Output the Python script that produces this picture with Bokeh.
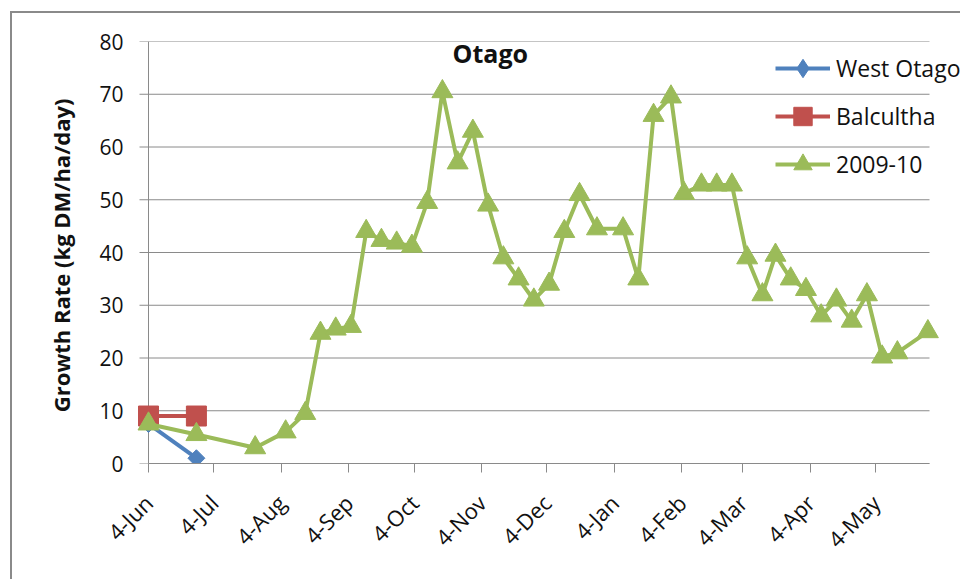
import math
import pandas as pd
from bokeh.plotting import figure
from bokeh.models import Legend, LegendItem, FixedTicker, Label, Range1d
from bokeh.embed import file_html
from bokeh.resources import INLINE

# ---------------- data ----------------
dates_2009_10 = [
    "2009-06-04", "2009-06-26", "2009-07-23", "2009-08-06", "2009-08-15",
    "2009-08-22", "2009-08-29", "2009-09-05", "2009-09-12", "2009-09-19",
    "2009-09-26", "2009-10-03", "2009-10-10", "2009-10-17", "2009-10-24",
    "2009-10-31", "2009-11-07", "2009-11-14", "2009-11-21", "2009-11-28",
    "2009-12-05", "2009-12-12", "2009-12-19", "2009-12-27", "2010-01-08",
    "2010-01-15", "2010-01-22", "2010-01-30", "2010-02-05", "2010-02-13",
    "2010-02-20", "2010-02-27", "2010-03-06", "2010-03-13", "2010-03-19",
    "2010-03-26", "2010-04-02", "2010-04-09", "2010-04-16", "2010-04-23",
    "2010-04-30", "2010-05-07", "2010-05-14", "2010-05-28",
]
values_2009_10 = [
    7.5, 5.5, 3, 6, 9.5,
    24.7, 25.5, 26, 44, 42.3,
    41.8, 41.2, 49.5, 70.5, 57,
    63, 49, 39, 35, 31,
    34, 44, 51, 44.5, 44.5,
    35, 66, 69.5, 51.2, 52.8,
    52.8, 52.8, 39, 32, 39.5,
    35, 33, 28, 31, 27,
    32, 20.2, 21, 25,
]
dates_west_otago = ["2009-06-04", "2009-06-26"]
values_west_otago = [7.5, 1]
dates_balcultha = ["2009-06-04", "2009-06-26"]
values_balcultha = [9, 9]

tick_dates = ["2009-06-04", "2009-07-04", "2009-08-04", "2009-09-04",
              "2009-10-04", "2009-11-04", "2009-12-04", "2010-01-04",
              "2010-02-04", "2010-03-04", "2010-04-04", "2010-05-04"]
tick_labels = ["4-Jun", "4-Jul", "4-Aug", "4-Sep", "4-Oct", "4-Nov",
               "4-Dec", "4-Jan", "4-Feb", "4-Mar", "4-Apr", "4-May"]
y_ticks = [0, 10, 20, 30, 40, 50, 60, 70, 80]

series_names = ["West Otago", "Balcultha", "2009-10"]
title_text = "Otago"
y_label = "Growth Rate  (kg DM/ha/day)"

# ---------------- styling ----------------
BLUE = "#4F81BD"
RED = "#C0504D"
GREEN = "#9BBB59"
GRID = "#8a8a8a"
FONT = "Open Sans"

x_g = pd.to_datetime(dates_2009_10)
x_w = pd.to_datetime(dates_west_otago)
x_b = pd.to_datetime(dates_balcultha)
tick_ms = [float(pd.Timestamp(d).value // 10**6) for d in tick_dates]

# layout (pixels)
W, H = 950, 568
PAD_L = 15            # frame starts a bit left of the value axis so edge markers are not clipped
BL, BT, BB = 136 - PAD_L, 28, 118
AXIS_W = 781          # drawn width of the date axis
TICK_OUT = 9
frame_w = W - BL      # frame runs to the right edge so the legend is not clipped

x_start = pd.Timestamp("2009-06-04")
x_axis_end = pd.Timestamp("2010-05-28 18:00")
px_per_day = AXIS_W / ((x_axis_end - x_start) / pd.Timedelta(days=1))
x_frame_start = x_start - pd.Timedelta(days=PAD_L / px_per_day)
x_frame_end = x_start + pd.Timedelta(days=(frame_w - PAD_L) / px_per_day)
x_tick_start = x_start - pd.Timedelta(days=TICK_OUT / px_per_day)

p = figure(
    width=W, height=H,
    x_axis_type="datetime",
    x_range=Range1d(x_frame_start, x_frame_end),
    y_range=Range1d(0, 80),
    output_backend="svg", toolbar_location=None,
    min_border_left=BL, min_border_right=0,
    min_border_top=BT, min_border_bottom=BB,
)
p.margin = (11, 0, 0, 10)
p.styles = {"border-top": "2px solid #8a8a8a", "border-left": "2px solid #8a8a8a"}
p.outline_line_color = None
p.background_fill_color = "white"
p.border_fill_color = "white"

# x axis
p.xaxis.ticker = FixedTicker(ticks=tick_ms)
p.xaxis.bounds = (x_start, x_axis_end)
p.xaxis.major_label_overrides = dict(zip(tick_ms, tick_labels))
p.xaxis.major_label_orientation = math.pi / 4
p.xaxis.minor_tick_line_color = None
p.xaxis.major_tick_in = 0
p.xaxis.major_tick_out = TICK_OUT
p.xaxis.major_label_standoff = 26
p.xaxis.axis_line_color = GRID
p.xaxis.major_tick_line_color = GRID
p.xaxis.major_label_text_font = FONT
p.xaxis.major_label_text_font_size = "22px"
p.xaxis.major_label_text_color = "#111111"

# y axis: labels from the axis; line and ticks drawn at the 4-Jun position
p.yaxis.ticker = FixedTicker(ticks=y_ticks)
p.yaxis.minor_tick_line_color = None
p.yaxis.major_tick_line_color = None
p.yaxis.axis_line_color = None
p.yaxis.major_tick_in = 0
p.yaxis.major_tick_out = 0
p.yaxis.major_label_standoff = 10
p.yaxis.major_label_text_font = FONT
p.yaxis.major_label_text_font_size = "21px"
p.yaxis.major_label_text_color = "#111111"
p.yaxis.axis_label = y_label
p.yaxis.axis_label_text_font = FONT
p.yaxis.axis_label_text_font_style = "bold"
p.yaxis.axis_label_text_font_size = "22px"
p.yaxis.axis_label_text_color = "#111111"
p.yaxis.axis_label_standoff = 20

p.xgrid.grid_line_color = None
p.ygrid.grid_line_color = None
# horizontal grid lines (with their outside tick part) and the value-axis line
p.segment(x0=[x_tick_start] * len(y_ticks), y0=y_ticks,
          x1=[x_axis_end] * len(y_ticks), y1=y_ticks,
          line_color=GRID, line_width=1)
p.segment(x0=[x_start], y0=[y_ticks[0]], x1=[x_start], y1=[y_ticks[-1]],
          line_color=GRID, line_width=1)

# series
lw = p.line(x_w, values_west_otago, line_color=BLUE, line_width=4)
p.scatter(x_w, values_west_otago, marker="square", size=12, angle=math.pi / 4,
          fill_color=BLUE, line_color=BLUE)
# legend-only diamond (no drawable point in the plot)
mw_legend = p.scatter(x=[x_start], y=[float("nan")], marker="diamond", size=22,
                      fill_color=BLUE, line_color=BLUE)
lb = p.line(x_b, values_balcultha, line_color=RED, line_width=4)
mb = p.scatter(x_b, values_balcultha, marker="square", size=20,
               fill_color=RED, line_color=RED)
lg = p.line(x_g, values_2009_10, line_color=GREEN, line_width=4)
mg = p.scatter(x_g, values_2009_10, marker="triangle", size=21,
               fill_color=GREEN, line_color=GREEN)

legend = Legend(
    items=[LegendItem(label=series_names[0], renderers=[lw, mw_legend]),
           LegendItem(label=series_names[1], renderers=[lb, mb]),
           LegendItem(label=series_names[2], renderers=[lg, mg])],
    location=(627 + PAD_L, 276),
    glyph_width=55, glyph_height=46, spacing=2,
    label_standoff=6, padding=0, margin=0,
    label_text_font=FONT, label_text_font_size="23px",
    label_text_color="#111111",
    background_fill_alpha=0, border_line_alpha=0,
)
p.add_layout(legend, "center")

p.add_layout(Label(
    x=pd.Timestamp("2009-11-08"), y=77.8, text=title_text,
    text_font=FONT, text_font_style="bold", text_font_size="25px",
    text_align="center", text_baseline="middle", text_color="#111111",
))

open("out.html", "w").write(file_html(p, INLINE))
